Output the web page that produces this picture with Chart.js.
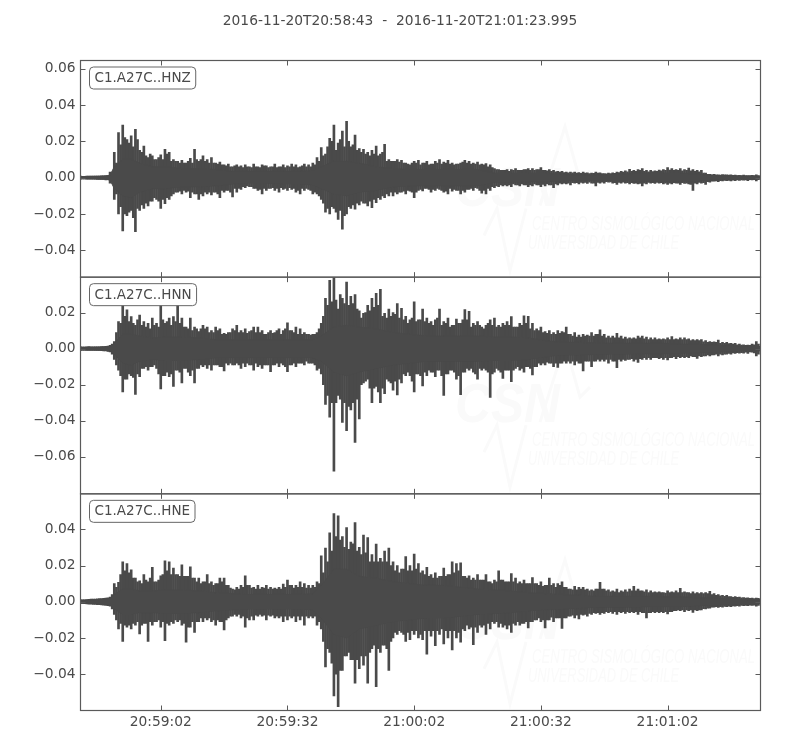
<!DOCTYPE html>
<html><head><meta charset="utf-8">
<style>html,body{margin:0;padding:0;background:#fff}canvas{display:block}</style>
<script src="https://cdn.jsdelivr.net/npm/chart.js@4"></script>
</head><body><canvas id="c" width="800" height="750"></canvas>
<script>
const titleText='2016-11-20T20:58:43  -  2016-11-20T21:01:23.995';
const traceNames=['C1.A27C..HNZ','C1.A27C..HNN','C1.A27C..HNE'];
const durationSeconds=160.995;
const xTickSeconds=[19,49,79,109,139];
const xTickLabels=['20:59:02','20:59:32','21:00:02','21:00:32','21:01:02'];
const yTicksZ=[0.06,0.04,0.02,0,-0.02,-0.04];
const yTicksN=[0.02,0,-0.02,-0.04,-0.06];
const yTicksE=[0.04,0.02,0,-0.02,-0.04];
const yRangeZ=[-0.0548,0.0645];
const yRangeN=[-0.0806,0.0397];
const yRangeE=[-0.0601,0.0596];
// amplitudes below are in thousandths of the plotted unit
const bodySeconds=[0,3,6,7,8,10,12,14,17,20,24,28,32,36,40,44,48,52,55,57,60,63,66,70,74,78,82,86,90,94,98,102,106,110,114,118,122,126,130,134,138,142,146,150,154,158,160.995];
const bodyUpperZ=[.6,.7,.9,1.4,6,10,10,8,6,6,5,5,4.5,3.5,3.5,3.5,3.5,3.5,4,6,9,9,8,6,5,4.5,4.5,4.5,4.5,4.5,2.5,2.5,2.5,2.5,1.8,1.5,1.5,1.8,2.2,2.5,2.5,2.5,2,1.2,1,.8,.8];
const bodyLowerZ=[-.6,-.7,-.9,-1.4,-6,-10,-11,-8,-6,-6,-5,-5,-4.5,-3.5,-3,-3,-3.5,-3.5,-4,-6,-9,-10,-8,-7,-5,-4.5,-4.5,-4.5,-4.5,-4.5,-2.5,-2.5,-2.2,-2.2,-1.8,-1.5,-1.5,-1.6,-1.8,-2,-2.2,-2,-1.8,-1,-.8,-.7,-.7];
const bodyUpperN=[.8,.8,1,1.3,3,8,8,7,6,6.5,6.5,6,5,5,5,5,5,5,5,7,12,13,12,11,9,8,7,7,7,7,6.5,6.5,6,4.5,3.5,3.5,3.2,3,3,3,3,2.5,2.5,2,1.5,1.2,1.2];
const bodyLowerN=[-.8,-.8,-1,-1.3,-3,-8,-9,-7,-6,-6.5,-6.5,-6,-5,-5,-5,-5,-5,-5,-5,-7,-13,-15,-13,-11,-9,-8,-7,-7,-7,-7,-6.5,-6.5,-6,-4.5,-3.5,-3.5,-3.2,-3,-3,-2.8,-2.8,-2.5,-2.2,-2,-1.5,-1.2,-1.2];
const bodyUpperE=[.8,1,1.5,1.8,4,7,7,6,6,6.5,6.5,6,5,4.5,4,4,4,4,4.5,9,18,18,14,13,11,10,9,9,8,7,6.5,6,5,4.5,4,3.5,3,3,3,3,2.8,2.8,2.2,2,1.4,1.2,1.2];
const bodyLowerE=[-.8,-1,-1.5,-1.8,-4,-7,-7,-6,-6,-6.5,-6.5,-6,-5,-4.5,-4,-4,-4,-4,-4.5,-9,-18,-20,-15,-13,-11,-10,-9,-9,-8,-7,-6.5,-6,-5,-4.5,-4,-3.5,-3,-3,-3,-2.8,-2.8,-2.8,-2.2,-2,-1.4,-1.2,-1.2];
// one value per second of the trace
const peakUpperZ=[.8,.7,.9,.8,.9,1,1.1,3,14,24.8,
29,21,23,26.6,15,17.4,11,12,10,12.5,
15.6,14,10,9,9.5,8,10.6,15.6,9,12,
10,11,8,8.5,7,7.5,6,7,6.5,7,
6,7.5,6,7,6.5,6,7.5,6,7,6.5,
7.5,7,6,7.5,7,8,11,16.5,13,21.6,
29,19,25.7,31,17,23.5,16,15.6,14,15,
17.4,13,18.3,10,9,10,9.5,8,7,9,
9.5,8,9,7.5,9,10,8.5,9.5,8,7.5,
8,9.5,9,8,8.5,7.5,7.7,7,5,4.5,
4,4.5,4.5,5,4,4.5,5,5,4.5,5.5,
4,4.5,4,3.5,3.5,3,3,3,2.8,3,
2.7,2.5,3,2.7,2.3,2.5,2.7,3,3.5,3.7,
4.6,4,4.5,5,4,4,3.8,4.2,4.5,5.5,
5,4.5,5,4.5,5.2,4.5,4,4,2.5,1.8,
1.8,1.6,1.7,1.5,1.6,1.4,1.3,1.4,1.2,1.3,1.6];
const peakLowerZ=[-.8,-.7,-.9,-.9,-1,-1,-1.2,-3,-12,-20,
-29.4,-21,-18,-29.7,-18,-17,-15.6,-13,-12,-17,
-14.3,-12,-9,-8,-9,-8,-11,-9,-12,-10,
-9,-9.5,-8,-11,-8,-7,-10.6,-8,-6.5,-5.5,
-5,-6,-7,-9,-7,-6,-7,-8,-6.5,-7,
-6.5,-8,-9,-7,-6.5,-9,-9,-12,-19,-20,
-17,-23,-28.4,-20,-17,-17.4,-15,-14,-15.6,-16.5,
-13.8,-12,-11,-10,-10,-9,-8,-9,-7.5,-11,
-7,-7.3,-6,-8,-7,-6.5,-8,-9,-7.5,-7,
-9,-8,-6.5,-7,-6,-8.5,-9,-7,-5.5,-5,
-4.5,-4.5,-5,-4,-4.5,-4,-5,-4.5,-4,-5,
-4.5,-4,-5.5,-4,-3.5,-3.5,-4,-3,-3.5,-3,
-3.2,-3,-4.5,-3,-3,-2.5,-3,-3.7,-3,-3,
-3.5,-3.2,-3.5,-4.5,-3.5,-3,-3.2,-3,-3.5,-3.8,
-3.5,-3,-3.8,-3.2,-3.5,-7,-3.5,-3,-3.7,-2.5,
-2,-2.2,-1.8,-1.7,-1.8,-1.6,-1.5,-1.4,-1.6,-1.3,-1.8];
const peakUpperN=[1,.9,1.1,1,1,1.1,1.3,1.8,4,15,
24,21.5,17.8,13,18.7,15,14,17,14,24,
14,17,17.8,24,17,12,17,12,9.5,13,
12,10,12,11,8.5,9,11,13,10,11,
9.5,12,12,10,8,10,9,11,10,14.4,
10,12,11,9,8,8,9,14,28,38,
39.9,22,28,37,29,30,21,19.6,24,28,
30.7,33,19.6,22,20,25,22.4,18,16,26,
16,22,17,15,16,22,15,17,13,16.4,
14,21.7,20.7,14,15,12,13,16,17,13,
14,15,17.8,12,14,18.3,18,14,11,12,
9.5,10,9,10,9.5,12,8,9,7.5,8,
7.6,9,8,10.4,8,7,7,8.5,7,6.5,
6,6,7,7,6.5,6,6,5.5,5.5,6,
6.7,5.5,6,6,5.5,5,5,5,4.5,4,
3.8,4.8,3.5,3.5,3,3,2.5,2.2,2,2.5,4];
const peakLowerN=[-1,-.9,-1,-1,-1,-1.1,-1.3,-1.8,-6,-12,
-24,-17,-15,-25.4,-15.5,-11,-12,-10,-11,-22.4,
-15,-15.5,-21,-12,-19,-11,-15,-19,-11,-10,
-11,-12,-9,-10,-12.4,-9,-9,-8,-11,-10,
-9,-12,-10,-11,-9,-12.8,-9,-10,-9,-12.8,
-9,-10,-8,-9,-8,-8,-12,-14,-31,-38,
-68,-26,-41,-45.5,-34,-52,-39,-19,-17,-30,
-21,-30,-25,-18,-23,-25.7,-19,-15,-15,-24,
-14,-20.7,-15,-13,-15.5,-12,-26,-14,-12,-17,
-25.6,-13,-12,-13,-17,-12,-12,-27,-13,-12,
-16.5,-12,-18.3,-11,-12,-13,-10,-14.6,-10,-9,
-9,-8,-10,-10.4,-8,-8,-8,-9,-8,-12.4,
-7,-10,-7,-7,-7,-8,-7,-10.5,-7,-6.5,
-6,-7,-7.6,-6,-6,-6,-5,-5.5,-6,-6.3,
-5,-5.5,-5,-5,-5,-4.5,-5.4,-4.5,-4,-4,
-3.5,-4,-3.5,-3,-3,-2.6,-2.5,-2.5,-2.6,-2,-4];
const peakUpperE=[1,1.1,1.3,1.5,1.6,1.8,2,2.5,10,10.7,
22,21,17.6,13,11.6,15,11,19,11,14.3,
22.6,22,18.6,15,20.4,14,19.3,13,13,11,
15,11,10,13,13,9,7,8,9,14.3,
9,8,9,8,9,8,7.5,8,9.7,12,
9,9,11,10,9,9,11,25.4,29.6,38,
48.7,47.4,36,41,33,43.7,30,36.8,35.5,26,
31.8,24,28,29.6,22,20,18,25,20,26.3,
21,17,19,15,16,14,18.6,15,22,21,
21.5,14,14.3,13,15,12,15,11,12,17,
12,11,15.6,13,11,12,10,13.4,10,11,
9,13,10,10,11,8,7,8.5,8,8,
7,6.5,7,10.7,7,6.5,6,7,6,6.5,
7,8.5,7,6,6.5,6,5.5,5.5,5,6,
5.5,6,7.4,5.5,5,5.5,5,5,5,5.7,
4.5,4,3.5,3.5,2.8,2.8,2.5,2.3,2.2,2,2];
const peakLowerE=[-1,-1.1,-1.3,-1.5,-1.6,-1.8,-2,-2.5,-7,-15,
-22,-14,-15,-13,-17.8,-12,-22,-13,-11,-14,
-21.5,-13,-12,-11,-13,-22.4,-14,-17,-11,-11,
-10,-11,-13,-11,-15.6,-9,-8,-8,-9,-14,
-10,-10,-8,-8,-10,-8,-9,-9,-11,-10,
-9,-11,-10,-13,-9,-9,-13,-15,-36,-28,
-52,-58,-38,-30,-32,-45,-37,-35,-45,-26,
-47,-28,-24,-38,-20,-18,-17,-22,-21,-18,
-20,-21,-29,-19,-24.3,-18,-23.3,-20,-26.7,-20,
-22.4,-16,-15,-23.7,-17,-14,-18,-15,-12,-14,
-14,-15,-17,-13,-13,-12,-14.5,-11,-10,-11,
-14.5,-10,-11,-9,-14.8,-9,-8,-9,-9.5,-7.5,
-8,-7,-6.5,-7,-6.5,-6,-6.5,-7,-6,-6.5,
-6,-6,-7,-6,-9,-6,-6,-6,-6,-6.8,
-5.5,-5,-5,-5.5,-5,-5.9,-5,-4.5,-4,-3.5,
-3,-3.2,-3,-2.8,-2.8,-2.5,-2.5,-2.2,-2.2,-2,-2.4];
// one value for each half-second between the columns above
const midUpperZ=[.7,.8,.8,.9,.9,1,1,1.6,8,18,
22,19,17,21,14,12,13,10,11,10,
13,9,9,8,8,9,8,10,10,9,
8,8,7.5,7,6.5,6,6.5,6,5.5,6,
5.5,6,5.5,6.5,5.5,6,5.5,6,5.5,6,
6,5.5,6.5,6,6,7,9,12,17,20,
15,21,17,20,18,15,14,13,12,13,
12,14,9,9,9,8.5,8,7.5,8,8,
7,8,7,7.5,8,7.5,8,7.5,7,7.5,
8.5,8,7.5,7.5,7,7,6,5.5,4.5,4,
4,3.5,4,4,4,4.5,4,4,4.5,4,
3.8,3.5,3.2,3,2.8,2.7,2.6,2.5,2.4,2.5,
2.3,2.4,2.5,2.2,2.1,2.3,2.4,2.8,3,3.2,
3.5,3.5,4,3.5,3.2,3.3,3.5,3.8,4,4.2,
4,4,3.8,4,3.8,3.5,3.2,2.5,1.8,1.6,
1.5,1.4,1.5,1.4,1.3,1.2,1.2,1.1,1.1,1.1,1.2];
const midLowerZ=[-.7,-.8,-.8,-.9,-1,-1,-1.1,-1.6,-9,-16,
-20,-19,-22,-17,-15,-14,-13,-11,-13,-12,
-11,-10,-8,-7.5,-7,-7.5,-8,-9,-9,-8,
-8,-8,-9,-7,-7,-8,-6,-6,-5,-4.5,
-5,-6,-6.5,-6,-6,-5.5,-6,-5.5,-6,-5.5,
-6,-7,-6,-6,-7,-8,-10,-14,-17,-16,
-19,-18,-21,-16,-15,-14,-13,-14,-13,-12,
-11,-10,-9,-8,-8,-8,-7.5,-7,-8,-8,
-6.5,-6,-6.5,-6.5,-6,-7,-7.5,-6,-6.5,-7,
-7,-6.5,-6,-5.5,-7,-7,-6,-5,-4.5,-4,
-4,-4,-3.5,-4,-3.5,-4,-4,-3.5,-4,-3.8,
-3.5,-4,-3.5,-3,-3,-3,-2.7,-2.8,-2.6,-2.6,
-2.5,-3,-2.6,-2.5,-2.2,-2.4,-2.8,-2.6,-2.5,-2.7,
-2.8,-3,-3.2,-3,-2.6,-2.8,-2.6,-2.8,-3,-3,
-2.7,-3,-2.8,-3,-3.8,-3,-2.6,-2.8,-2.2,-2,
-1.8,-1.7,-1.5,-1.5,-1.4,-1.3,-1.2,-1.2,-1.1,-1.1,-1.1];
const midUpperN=[.9,1,1,1,1,1.2,1.5,2.5,9,14,
18,15,14,16,13,12,11,13,12,16,
15,13,15,14,12,11,10,11,11,11,
9,9,10,8,8,9,10,9,9,8.5,
10,9,9,8,9,8.5,10,8,11,10,
9,8,8,8,7.5,8,11,18,24,26,
27,30,25,24,25,22,17,20,21,23,
24,18,17,18,19,17,16,14,17,15,
16,15,14,13,17,13,14,12,13,14,
16,16,12,13,13,11,14,13,12,12,
13,13,12,12,13,14,11,10,10,9,
8.5,8,8,8.5,9,8,7,6.5,6.5,7,
7,7,8,7,6,6,6,6,5.5,5.5,
5.5,5.5,6,5.5,5,5,5,5,5,5,
5,5,5,5,4.5,4.5,4.5,3.8,3.5,3.5,
3.5,3,3,2.8,2.5,2.2,2,1.8,1.8,2.2,2.5];
const midLowerN=[-.9,-1,-1,-1,-1,-1.2,-1.5,-3,-9,-15,
-17,-14,-16,-14,-11,-10,-10,-9,-14,-15,
-13,-14,-12,-13,-11,-13,-12,-11,-9,-9,
-9,-9,-9,-10,-8,-8,-9,-9,-8,-8,
-9,-8,-9,-9,-9,-9,-8,-8,-10,-9,
-8,-8,-8,-7,-8,-9,-11,-20,-26,-30,
-30,-28,-30,-32,-30,-28,-20,-18,-22,-22,
-24,-22,-17,-19,-18,-17,-14,-13,-18,-14,
-15,-13,-12,-13,-12,-15,-14,-12,-13,-15,
-13,-11,-11,-14,-11,-11,-13,-14,-11,-13,
-12,-12,-12,-10,-11,-10,-11,-10,-8,-8,
-7.5,-8,-8,-8,-7,-7,-7,-7,-8,-7,
-7,-7,-6,-6,-6,-6,-7,-6,-6,-6,
-5.5,-6,-5.5,-5,-5,-5,-5,-5,-5,-5,
-4.5,-4.5,-4.5,-4.5,-4,-4.5,-4,-4,-3.5,-3.5,
-3,-3,-3,-2.6,-2.4,-2.2,-2.2,-2,-1.8,-2.4,-3];
const midUpperE=[1,1.2,1.4,1.5,1.7,1.9,2.2,4,8,15,
17,16,13,11,10,12,13,11,12,15,
17,15,15,14,14,14,13,11,10,11,
10,9,10,11,9,7.5,6.5,7,8,9,
7.5,7,7,7.5,7,7,7,7,8,9,
7.5,8,8,7.5,7.5,8,10,16,22,28,
36,34,30,29,32,28,26,27,22,22,
22,22,22,20,17,16,18,17,17,18,
16,15,14,13,13,14,14,15,16,17,
14,13,12,12,12,12,11,10,11,12,
11,11,11,10,10,10,10,10,9,8.5,
9,9,8,9,8,7,6.5,6.5,7,6.5,
6,6,7,7,6,5.5,5.5,5,5.5,5.5,
6,6,6,5.5,5,5,5,5,4.8,5,
5,5,5,5,4.5,4.5,4.5,4.5,4.5,4,
3.5,3.3,3,2.8,2.4,2.4,2.2,2,1.9,1.8,1.9];
const midLowerE=[-1,-1.2,-1.4,-1.5,-1.7,-1.9,-2.2,-4,-10,-12,
-13,-13,-12,-11,-13,-12,-11,-11,-10,-11,
-12,-11,-10,-10,-12,-14,-11,-11,-9,-9,
-9,-10,-10,-11,-10,-8,-7,-7,-8,-9,
-8,-7.5,-7,-7.5,-7.5,-7.5,-8,-8,-8,-8,
-8,-8,-8,-8,-8,-8,-11,-22,-26,-34,
-40,-38,-30,-28,-32,-32,-30,-30,-28,-24,
-26,-24,-26,-22,-17,-16,-18,-17,-16,-16,
-18,-16,-16,-16,-16,-15,-16,-16,-16,-17,
-15,-13,-14,-14,-13,-13,-12,-11,-11,-12,
-13,-13,-12,-11,-12,-11,-11,-10,-9,-10,
-10,-8.5,-9,-9,-9,-8,-7.5,-7.5,-7,-7,
-6.5,-6,-6,-6,-5.5,-5.5,-5.5,-5.5,-5.5,-5.5,
-5.5,-5.5,-5.5,-6,-6,-5.5,-5.5,-5.5,-5.5,-5.5,
-5,-4.5,-4.5,-4.5,-4.5,-4.5,-4.5,-3.8,-3.5,-3,
-2.8,-2.8,-2.6,-2.5,-2.3,-2.2,-2,-2,-1.9,-1.9,-2];

const INK='#4a4a4a', TEXT='#4a4a4a', FRAME='#5a5a5a', WM='#fafafa';
const FONT='"DejaVu Sans"', FS=13.8, LABEL_FS=13.5;
const bodyPts=a=>a.map((v,i)=>({x:bodySeconds[i],y:v/1000}));
function barSet(axis,u,l,off){
  return {type:'bar',yAxisID:axis,grouped:false,barThickness:2,backgroundColor:INK,borderWidth:0,
    data:u.map((v,i)=>({x:i+off,y:[l[i]/1000,v/1000]}))};
}
function traceDatasets(axis,bu,bl,pu,pl,mu,ml){
  return [
   {type:'line',yAxisID:axis,data:bodyPts(bu),borderColor:INK,borderWidth:1,backgroundColor:INK,fill:'+1',pointRadius:0,tension:0},
   {type:'line',yAxisID:axis,data:bodyPts(bl),borderColor:INK,borderWidth:1,fill:false,pointRadius:0,tension:0},
   barSet(axis,pu,pl,0),
   barSet(axis,mu,ml,0.5)
  ];
}
function yAxis(range,ticks){
  return {type:'linear',position:'left',stack:'traces',stackWeight:1,min:range[0],max:range[1],
    grid:{display:false,drawTicks:false},border:{display:false},
    afterBuildTicks:s=>{s.ticks=ticks.map(value=>({value}));},
    afterFit:s=>{s.width=80.5;},
    ticks:{autoSkip:false,padding:5,color:TEXT,font:{family:FONT,size:FS},
      callback:v=>(v<0?'\u2212':'')+Math.abs(v).toFixed(2)}};
}
const watermark={id:'watermark',beforeDatasetsDraw(chart){
  const c=chart.ctx;c.save();c.fillStyle=WM;c.strokeStyle=WM;c.textBaseline='alphabetic';c.textAlign='left';
  [chart.scales.yZ,chart.scales.yN,chart.scales.yE].forEach(s=>{
    const t=s.top;
    c.font='italic bold 56px "Liberation Sans"';c.fillText('CSN',455,t+145,105);
    c.font='italic 20px "Liberation Sans"';
    c.fillText('CENTRO SISMOLÓGICO NACIONAL',532,t+169,223);
    c.fillText('UNIVERSIDAD DE CHILE',528,t+188,151);
    c.lineWidth=3;c.beginPath();
    [[540,145],[565,66],[580,120],[590,110]].forEach((p,i)=>i?c.lineTo(p[0],t+p[1]):c.moveTo(p[0],t+p[1]));
    c.stroke();c.beginPath();
    [[484,175],[497,148],[510,210],[526,148]].forEach((p,i)=>i?c.lineTo(p[0],t+p[1]):c.moveTo(p[0],t+p[1]));
    c.stroke();
  });
  c.restore();
}};
const panelFurniture={id:'panelFurniture',afterDraw(chart){
  const c=chart.ctx, x=chart.scales.x, L=5;
  const panels=[chart.scales.yZ,chart.scales.yN,chart.scales.yE];
  c.save();
  c.font=FS+'px '+FONT;c.fillStyle=TEXT;c.textAlign='center';c.textBaseline='middle';
  c.fillText(titleText,chart.width/2,21);
  panels.forEach((s,i)=>{
    c.font=LABEL_FS+'px '+FONT;
    const w=c.measureText(traceNames[i]).width, bx=89.5, by=s.top+6.5, bw=w+10, bh=22;
    c.beginPath();c.roundRect(bx,by,bw,bh,4);
    c.fillStyle='rgba(255,255,255,0.8)';c.fill();
    c.strokeStyle='#666666';c.lineWidth=1;c.stroke();
    c.fillStyle=TEXT;c.textAlign='left';c.textBaseline='middle';
    c.fillText(traceNames[i],bx+5,by+bh/2+.5);
    c.strokeStyle=FRAME;c.lineWidth=1;c.beginPath();
    s.ticks.forEach(t=>{const y=Math.round(s.getPixelForValue(t.value))+.5;
      c.moveTo(x.left,y);c.lineTo(x.left+L,y);c.moveTo(x.right,y);c.lineTo(x.right-L,y);});
    x.ticks.forEach(t=>{const p=Math.round(x.getPixelForValue(t.value))+.5;
      c.moveTo(p,s.top);c.lineTo(p,s.top+L);c.moveTo(p,s.bottom);c.lineTo(p,s.bottom-L);});
    c.stroke();
    c.lineWidth=1.2;c.strokeRect(x.left,s.top,x.right-x.left,s.bottom-s.top);
  });
  c.restore();
}};
new Chart(document.getElementById('c'),{
  data:{datasets:[
    ...traceDatasets('yE',bodyUpperE,bodyLowerE,peakUpperE,peakLowerE,midUpperE,midLowerE),
    ...traceDatasets('yN',bodyUpperN,bodyLowerN,peakUpperN,peakLowerN,midUpperN,midLowerN),
    ...traceDatasets('yZ',bodyUpperZ,bodyLowerZ,peakUpperZ,peakLowerZ,midUpperZ,midLowerZ)
  ]},
  options:{responsive:false,animation:false,
    layout:{padding:{right:39.5,left:0,top:60.5,bottom:0}},
    plugins:{legend:{display:false},tooltip:{enabled:false},title:{display:false},filler:{propagate:false}},
    scales:{
      x:{type:'linear',position:'bottom',min:0,max:durationSeconds,offset:false,
        grid:{display:false,offset:false,drawTicks:false},border:{display:false},
        afterBuildTicks:s=>{s.ticks=xTickSeconds.map(value=>({value}));},
        afterFit:s=>{s.height=39.5;},
        ticks:{autoSkip:false,maxRotation:0,padding:4,color:TEXT,font:{family:FONT,size:FS},
          callback:v=>xTickLabels[xTickSeconds.indexOf(v)]}},
      yE:yAxis(yRangeE,yTicksE),
      yN:yAxis(yRangeN,yTicksN),
      yZ:yAxis(yRangeZ,yTicksZ)
    }
  },
  plugins:[watermark,panelFurniture]
});
</script></body></html>
